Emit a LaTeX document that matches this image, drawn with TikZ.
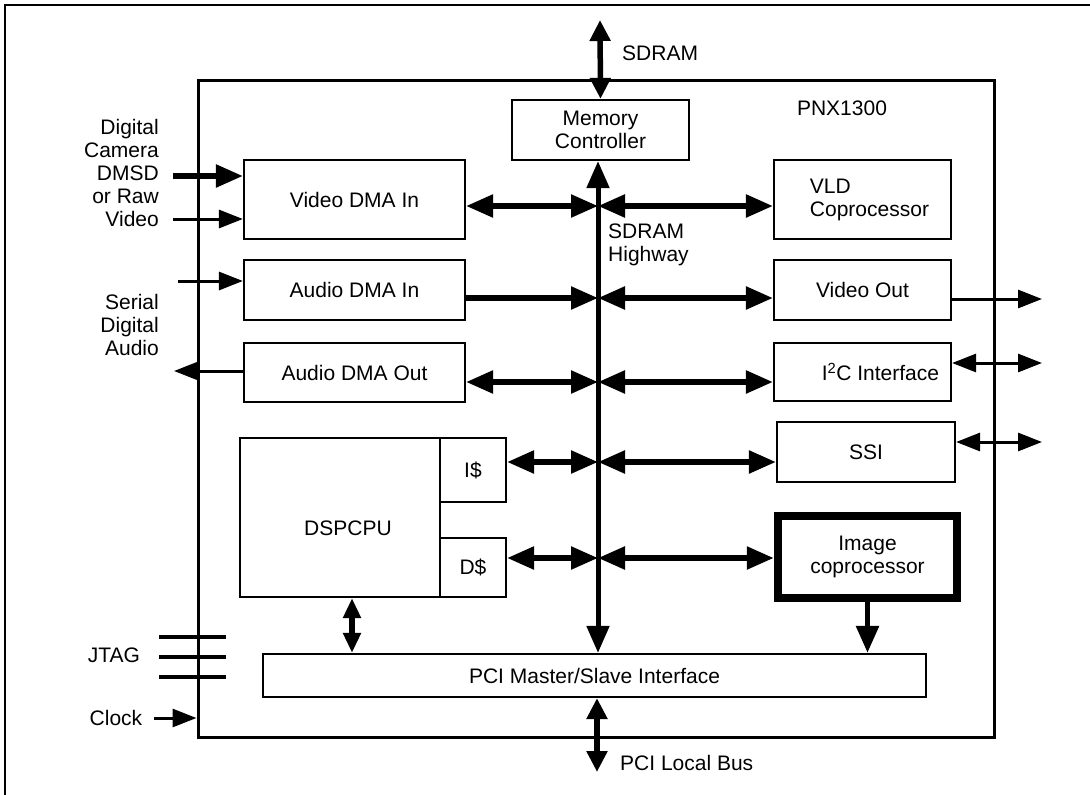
\documentclass[tikz,border=0pt]{standalone}
\usepackage{fontspec}
\setmainfont{Liberation Sans}
\usetikzlibrary{arrows.meta}

\begin{document}
\begin{tikzpicture}[x=1pt, y=-1pt,
    font=\fontsize{21}{23}\selectfont,
    box/.style={draw, line width=2.2pt, inner sep=0pt, align=center},
    chipbox/.style={draw, line width=3pt, inner sep=0pt},
    imgbox/.style={box, line width=8.5pt},
    txt/.style={inner sep=0pt, align=center},
    bigtip/.tip={Triangle[length=27pt, width=22pt]},
    shorttip/.tip={Triangle[length=21pt, width=20pt]},
    smalltip/.tip={Triangle[length=24pt, width=18pt]},
    thk/.style={line width=5.5pt, -bigtip},
    thkboth/.style={line width=5.5pt, bigtip-bigtip},
    vboth/.style={line width=5.5pt, shorttip-shorttip},
    thn/.style={line width=3pt, -smalltip},
    thnboth/.style={line width=3pt, smalltip-smalltip}
]
\useasboundingbox (0,0) rectangle (1090,795);

% outer frame (only left and top edges fall inside the page)
\draw[line width=2pt] (5,800) -- (5,5) -- (1095,5);

% --- chip ---
\node[chipbox, minimum width=796pt, minimum height=657pt] (chip) at (596,408.5) {};
\node[txt] (pnx) at (842,108) {PNX1300};

% --- blocks ---
\node[box, minimum width=177pt, minimum height=60pt] (memctl) at (600.5,130) {Memory\\Controller};
\node[box, minimum width=221pt, minimum height=79pt] (vdmain) at (354.5,199.5) {Video DMA In};
\node[box, minimum width=221pt, minimum height=60pt] (admain) at (354.5,290) {Audio DMA In};
\node[box, minimum width=221pt, minimum height=59pt] (admaout) at (354.5,372.5) {Audio DMA Out};
\node[box, minimum width=177pt, minimum height=79pt, align=left] (vld) at (862.5,199.5) {\hspace*{14pt}VLD\\\hspace*{14pt}Coprocessor};
\node[box, minimum width=177pt, minimum height=60pt] (vidout) at (862.5,290) {Video Out};
\node[box, minimum width=177pt, minimum height=58pt] (i2c) at (862.5,372) {\hspace*{36pt}I\textsuperscript{2}C Interface};
\node[box, minimum width=178pt, minimum height=60pt] (ssi) at (866,452) {SSI};
\node[imgbox, minimum width=179pt, minimum height=82pt] (imgco) at (867.5,557) {Image\\coprocessor};
\node[box, minimum width=200pt, minimum height=159pt] (dspcpu) at (340,517.5) {};
\node[txt] (dsplbl) at (348,528) {DSPCPU};
\node[box, minimum width=66pt, minimum height=64pt] (icache) at (473,470) {I\$};
\node[box, minimum width=66pt, minimum height=59pt] (dcache) at (473,567.5) {D\$};
\node[box, minimum width=663pt, minimum height=43pt] (pci) at (594.5,675.5) {PCI Master/Slave Interface};

% --- SDRAM highway ---
\coordinate (hw) at (598,300);
\coordinate (r1) at (598,206);
\coordinate (r2) at (598,298);
\coordinate (r3) at (598,382);
\coordinate (r4) at (598,462);
\coordinate (r5) at (598,558);
\draw[line width=5pt, bigtip-bigtip] (memctl.south -| hw) -- (pci.north -| hw);
\node[txt, anchor=north west, align=left] (hwlbl) at (608,224) {SDRAM\\Highway};

\draw[thkboth] (vdmain.east |- r1) -- (r1);
\draw[thkboth] (r1) -- (vld.west |- r1);
\draw[thk] (admain.east |- r2) -- (r2);
\draw[thkboth] (r2) -- (vidout.west |- r2);
\draw[thkboth] (admaout.east |- r3) -- (r3);
\draw[thkboth] (r3) -- (i2c.west |- r3);
\draw[thkboth] (icache.east |- r4) -- (r4);
\draw[thkboth] (r4) -- (ssi.west |- r4);
\draw[thkboth] (dcache.east |- r5) -- (r5);
\draw[thkboth] (r5) -- (imgco.west |- r5);

% --- vertical links ---
\coordinate (sdram) at (600,20);
\draw[vboth] (sdram) -- (memctl.north);
\node[txt, anchor=west] (sdramlbl) at (622,53) {SDRAM};

\draw[thk] (imgco.south) -- (imgco.south |- pci.north);
\draw[line width=5.5pt, {Triangle[length=20pt, width=17pt]}-{Triangle[length=20pt, width=17pt]}]
  ([xshift=12pt]dspcpu.south) -- ([xshift=12pt]dspcpu.south |- pci.north);

\coordinate (pcibus) at (597,772);
\draw[vboth] (pci.south -| pcibus) -- (pcibus);
\node[txt, anchor=west] (pcilbl) at (620,763) {PCI Local Bus};

% --- left side pins ---
\node[txt, anchor=east, align=right] (camlbl) at (159,173) {Digital\\Camera\\DMSD\\or Raw\\Video};
\coordinate (dmsd) at (173,176);
\coordinate (rawv) at (173,219);
\draw[line width=5.5pt, -bigtip] (dmsd) -- (vdmain.west |- dmsd);
\draw[thn] (rawv) -- (vdmain.west |- rawv);

\node[txt, anchor=east, align=right] (audlbl) at (159,325) {Serial\\Digital\\Audio};
\coordinate (ain) at (178,281);
\coordinate (aout) at (174,371);
\draw[thn] (ain) -- (admain.west |- ain);
\draw[thn] (admaout.west |- aout) -- (aout);

\node[txt] (jtag) at (114,655) {JTAG};
\foreach \y in {637,657,677}
  \draw[line width=3.5pt] (159,\y) -- (226,\y);

\node[txt] (clklbl) at (116,718) {Clock};
\coordinate (clk) at (154,718);
\draw[thn] (clk) -- (chip.west |- clk);

% --- right side pins ---
\coordinate (vo) at (1042,299);
\coordinate (i2co) at (1042,363);
\coordinate (ssio) at (1042,442);
\draw[thn] (vidout.east |- vo) -- (vo);
\draw[thnboth] (i2c.east |- i2co) -- (i2co);
\draw[thnboth] (ssi.east |- ssio) -- (ssio);
\end{tikzpicture}
\end{document}
